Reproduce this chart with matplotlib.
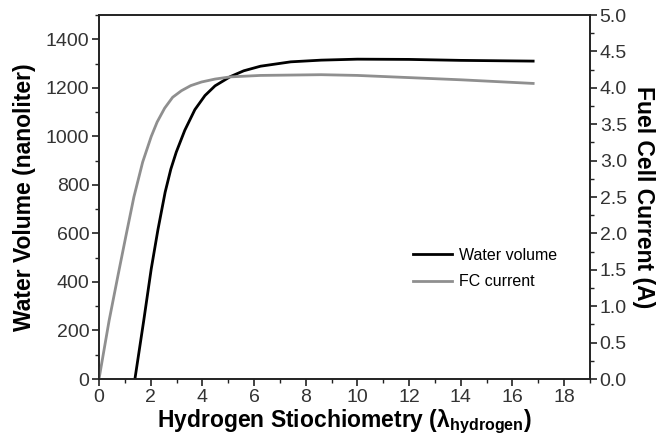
import matplotlib.pyplot as plt
from matplotlib.ticker import MultipleLocator

plt.rcParams['font.family'] = ['Liberation Sans', 'DejaVu Sans']
plt.rcParams['mathtext.fontset'] = 'custom'
plt.rcParams['mathtext.rm'] = 'Liberation Sans:bold'

# water volume (nanoliter) vs hydrogen stoichiometry
water_x = [1.39, 1.73, 2.02, 2.28, 2.56, 2.78, 2.99, 3.32, 3.71, 4.10, 4.49, 5.08,
           5.6, 6.25, 7.42, 8.6, 10.0, 12.0, 14.0, 16.8]
water_y = [0, 240, 453, 615, 770, 865, 935, 1025, 1110, 1168, 1208, 1246,
           1270, 1289, 1307, 1314, 1318, 1317, 1313, 1310]

# fuel cell current (A)
fc_x = [0.0, 0.39, 0.75, 1.05, 1.35, 1.69, 2.02, 2.25, 2.54, 2.85, 3.19, 3.55, 3.97,
        4.49, 5.08, 6.25, 8.6, 10.0, 12.0, 14.0, 16.8]
fc_y = [0.0, 0.8, 1.45, 1.98, 2.5, 2.98, 3.33, 3.53, 3.72, 3.87, 3.96, 4.03, 4.08,
        4.12, 4.15, 4.17, 4.18, 4.17, 4.14, 4.11, 4.06]

fig = plt.figure(figsize=(6.59, 4.36), dpi=100)
ax = fig.add_axes([99 / 659, 1 - 379 / 436, 491 / 659, 364 / 436])
ax2 = ax.twinx()

l1, = ax.plot(water_x, water_y, color='black', lw=2, label='Water volume')
l2, = ax2.plot(fc_x, fc_y, color='#8f8f8f', lw=2, label='FC current')

ax.set_xlim(0, 19)
ax.set_ylim(0, 1500)
ax2.set_ylim(0, 5)

ax.xaxis.set_major_locator(MultipleLocator(2))
ax.xaxis.set_minor_locator(MultipleLocator(1))
ax.yaxis.set_major_locator(MultipleLocator(200))
ax.yaxis.set_minor_locator(MultipleLocator(100))
ax2.yaxis.set_minor_locator(MultipleLocator(0.25))
ax2.set_yticks([i * 0.5 for i in range(11)])
ax2.set_yticklabels(['%.1f' % (i * 0.5) for i in range(11)])

for a in (ax, ax2):
    a.tick_params(which='major', direction='out', length=5, width=1.2, labelsize=14,
                  colors='#222222', labelcolor='#333333')
    a.tick_params(which='minor', direction='out', length=3, width=1.0, colors='#222222')
    for s in a.spines.values():
        s.set_linewidth(1.2)
        s.set_color('#222222')
ax.tick_params(axis='x', pad=2)
ax.tick_params(axis='y', pad=2)
ax2.tick_params(axis='y', pad=2)

ax.set_ylabel('Water Volume (nanoliter)', fontsize=16.5, fontweight='bold', labelpad=7)
ax2.set_ylabel('Fuel Cell Current (A)', fontsize=16.5, fontweight='bold', rotation=270, labelpad=20)
ax.set_xlabel(r'Hydrogen Stiochiometry (λ$_{\mathregular{hydrogen}}$)',
              fontsize=16.5, fontweight='bold', labelpad=1)

ax2.legend(handles=[l1, l2], loc='upper left', bbox_to_anchor=(0.64, 0.36),
           frameon=False, fontsize=11.5, handlelength=2.4, handletextpad=0.45,
           labelspacing=0.7, borderaxespad=0, borderpad=0)

fig.savefig('out.png', dpi=100)
